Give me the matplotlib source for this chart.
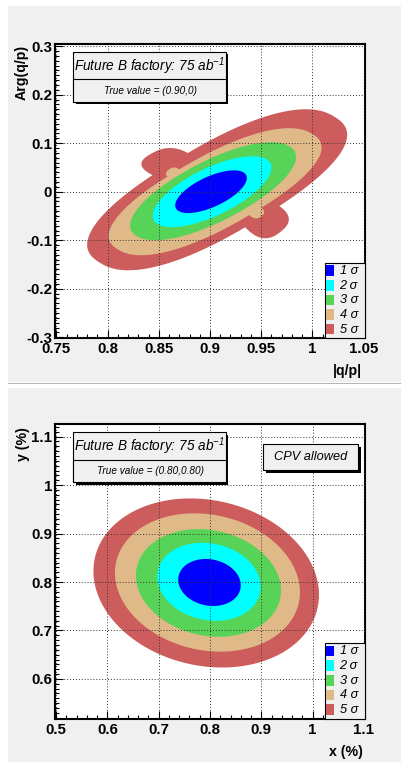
import numpy as np
import matplotlib
matplotlib.use('Agg')
import matplotlib.pyplot as plt
from matplotlib.patches import Rectangle
from matplotlib.ticker import FixedLocator, FixedFormatter, MultipleLocator

plt.rcParams['font.family'] = ['Liberation Sans', 'DejaVu Sans']
plt.rcParams['mathtext.fontset'] = 'custom'
plt.rcParams['mathtext.it'] = 'Liberation Sans:italic'
plt.rcParams['mathtext.rm'] = 'Liberation Sans:italic'

# ---------------- data ----------------
level_labels = ['1 σ', '2 σ', '3 σ', '4 σ', '5 σ']
level_colors = ['#0000ff', '#00ffff', '#57d357', '#dfb988', '#cd5c5c']

# top panel: |q/p| vs Arg(q/p) contours (center, half-extents, correlation, squareness)
top_cx = [0.901, 0.902, 0.903, 0.905, 0.907]
top_cy = [0.000, 0.000, 0.001, 0.000, 0.004]
top_hx = [0.035, 0.058, 0.081, 0.104, 0.127]
top_hy = [0.044, 0.073, 0.101, 0.131, 0.166]
top_rho = [0.64, 0.68, 0.72, 0.75, 0.75]
top_sq = [2.0, 2.0, 2.1, 2.3, 2.4]
# side lobes of the outer contours
lobe_level = [4, 4, 3, 3]
lobe_cx = [0.861, 0.954, 0.865, 0.945]
lobe_cy = [0.057, -0.057, 0.037, -0.042]
lobe_hx = [0.028, 0.023, 0.008, 0.008]
lobe_hy = [0.033, 0.039, 0.013, 0.013]

top_xticks = [0.75, 0.8, 0.85, 0.9, 0.95, 1.0, 1.05]
top_xticklabels = ['0.75', '0.8', '0.85', '0.9', '0.95', '1', '1.05']
top_yticks = [-0.3, -0.2, -0.1, 0.0, 0.1, 0.2, 0.3]
top_yticklabels = ['-0.3', '-0.2', '-0.1', '0', '0.1', '0.2', '0.3']

# bottom panel: x vs y contours
bot_cx = [0.799, 0.798, 0.797, 0.795, 0.7926]
bot_cy = [0.799, 0.8005, 0.798, 0.799, 0.798]
bot_hx = [0.061, 0.101, 0.1415, 0.1805, 0.220]
bot_hy = [0.0485, 0.0805, 0.111, 0.1427, 0.1744]
bot_rho = [-0.12, -0.13, -0.14, -0.14, -0.14]
bot_sq = [2.0, 2.0, 2.0, 2.0, 2.0]

bot_xticks = [0.5, 0.6, 0.7, 0.8, 0.9, 1.0, 1.1]
bot_xticklabels = ['0.5', '0.6', '0.7', '0.8', '0.9', '1', '1.1']
bot_yticks = [0.6, 0.7, 0.8, 0.9, 1.0, 1.1]
bot_yticklabels = ['0.6', '0.7', '0.8', '0.9', '1', '1.1']

# ---------------- figure ----------------
W, H, DPI = 401, 762, 100
fig = plt.figure(figsize=(W / DPI, H / DPI), dpi=DPI, facecolor='white')


def rect_px(x0, y0, x1, y1, **kw):
    r = Rectangle((x0 / W, 1 - y1 / H), (x1 - x0) / W, (y1 - y0) / H,
                  transform=fig.transFigure, **kw)
    fig.patches.append(r)
    return r


def text_px(x, y, s, **kw):
    return fig.text(x / W, 1 - y / H, s, **kw)


# pads
rect_px(8, 6, 401, 382, facecolor='#f0f0f0', edgecolor='none', zorder=-10)
rect_px(8, 382.5, 401, 384, facecolor='#b4b4b4', edgecolor='none', zorder=-10)
rect_px(8, 388, 401, 762, facecolor='#f0f0f0', edgecolor='none', zorder=-10)


def contour_xy(cx, cy, hx, hy, rho, sq, n=400):
    t = np.linspace(0, 2 * np.pi, n)
    a, b = np.sqrt(1 + rho), np.sqrt(1 - rho)
    C = np.sign(np.cos(t)) * np.abs(np.cos(t)) ** (2.0 / sq)
    S = np.sign(np.sin(t)) * np.abs(np.sin(t)) ** (2.0 / sq)
    u = (a * C + b * S) / np.sqrt(2)
    v = (a * C - b * S) / np.sqrt(2)
    u /= np.abs(u).max()
    v /= np.abs(v).max()
    return cx + hx * u, cy + hy * v


def setup_axes(top_px, bottom_px, xlim, ylim, xt, xtl, yt, ytl, xminor, yminor):
    ax = fig.add_axes([55 / W, 1 - bottom_px / H, 310 / W, (bottom_px - top_px) / H])
    ax.set_facecolor('white')
    ax.set_xlim(*xlim)
    ax.set_ylim(*ylim)
    ax.xaxis.set_major_locator(FixedLocator(xt))
    ax.xaxis.set_major_formatter(FixedFormatter(xtl))
    ax.yaxis.set_major_locator(FixedLocator(yt))
    ax.yaxis.set_major_formatter(FixedFormatter(ytl))
    ax.xaxis.set_minor_locator(MultipleLocator(xminor))
    ax.yaxis.set_minor_locator(MultipleLocator(yminor))
    ax.tick_params(which='both', direction='in', top=False, right=False, width=0.8, color='black')
    ax.tick_params(which='major', length=5.5)
    ax.tick_params(which='minor', length=3)
    ax.tick_params(axis='x', which='major', pad=3)
    ax.tick_params(axis='y', which='major', pad=2)
    for lab in ax.get_xticklabels() + ax.get_yticklabels():
        lab.set_fontweight('bold')
        lab.set_fontsize(10.8)
    for sp in ax.spines.values():
        sp.set_linewidth(1.5)
        sp.set_color('black')
    ax.set_axisbelow(False)
    ax.grid(True, which='major', color='#333333', linestyle=(0, (1, 2)), linewidth=0.7)
    return ax


def pave(x0, y0, x1, y1, divider=None):
    rect_px(x0 + 2.5, y0 + 2.5, x1 + 2.5, y1 + 2.5, facecolor='black', edgecolor='none', zorder=4)
    rect_px(x0, y0, x1, y1, facecolor='#f0f0f0', edgecolor='black', linewidth=0.8, zorder=5)
    if divider is not None:
        rect_px(x0, divider, x1, y1, facecolor='#f0f0f0', edgecolor='black', linewidth=0.8, zorder=5)


def legend(top_px):
    y0 = top_px + 218.7
    rect_px(325, y0, 365, y0 + 75.5, facecolor='#f0f0f0', edgecolor='black', linewidth=0.8, zorder=5)
    for i, (lab, col) in enumerate(zip(level_labels, level_colors)):
        yc = y0 + 8 + i * 14.6
        rect_px(326, yc - 5.3, 334.3, yc + 5.3, facecolor=col, edgecolor='none', zorder=6)
        text_px(339.5, yc + 0.5, lab, fontsize=9.2, style='italic', ha='left', va='center', zorder=7)


# ---------- top panel ----------
ax1 = setup_axes(44, 338, (0.7486, 1.0514), (-0.3016, 0.3045),
                 top_xticks, top_xticklabels, top_yticks, top_yticklabels, 0.01, 0.01)
for i in reversed(range(5)):
    ax1.fill(*contour_xy(top_cx[i], top_cy[i], top_hx[i], top_hy[i], top_rho[i], top_sq[i]),
             color=level_colors[i], lw=0, zorder=1)
    for j, lv in enumerate(lobe_level):
        if lv == i:
            ax1.fill(*contour_xy(lobe_cx[j], lobe_cy[j], lobe_hx[j], lobe_hy[j], 0.0, 2.6),
                     color=level_colors[i], lw=0, zorder=1)

pave(73.3, 51.7, 225.7, 101.7, divider=79.3)
text_px(149.5, 65.8, 'Future B factory: 75 ab$^{-1}$', fontsize=9.8, style='italic',
        ha='center', va='center', zorder=7)
text_px(150.5, 90.7, 'True value = (0.90,0)', fontsize=7.2, style='italic',
        ha='center', va='center', zorder=7)
legend(44)
text_px(21.5, 45, 'Arg(q/p)', fontsize=10.2, fontweight='bold', rotation=90,
        ha='center', va='top')
text_px(362, 371, '|q/p|', fontsize=10.2, fontweight='bold', ha='right', va='center')

# ---------- bottom panel ----------
ax2 = setup_axes(424.3, 719.3, (0.4976, 1.1024), (0.5167, 1.1254),
                 bot_xticks, bot_xticklabels, bot_yticks, bot_yticklabels, 0.02, 0.01)
for i in reversed(range(5)):
    ax2.fill(*contour_xy(bot_cx[i], bot_cy[i], bot_hx[i], bot_hy[i], bot_rho[i], bot_sq[i]),
             color=level_colors[i], lw=0, zorder=1)

pave(73.3, 432, 225.7, 482, divider=459.6)
text_px(149.5, 446.1, 'Future B factory: 75 ab$^{-1}$', fontsize=9.8, style='italic',
        ha='center', va='center', zorder=7)
text_px(150.5, 471, 'True value = (0.80,0.80)', fontsize=7.2, style='italic',
        ha='center', va='center', zorder=7)
pave(263.3, 444.3, 358.3, 470)
text_px(310.8, 457.2, 'CPV allowed', fontsize=9.2, style='italic',
        ha='center', va='center', zorder=7)
legend(424.3)
text_px(22.5, 427, 'y (%)', fontsize=10.2, fontweight='bold', rotation=90,
        ha='center', va='top')
text_px(363, 752, 'x (%)', fontsize=10.2, fontweight='bold', ha='right', va='center')

fig.savefig('out.png', dpi=DPI, facecolor='white')
